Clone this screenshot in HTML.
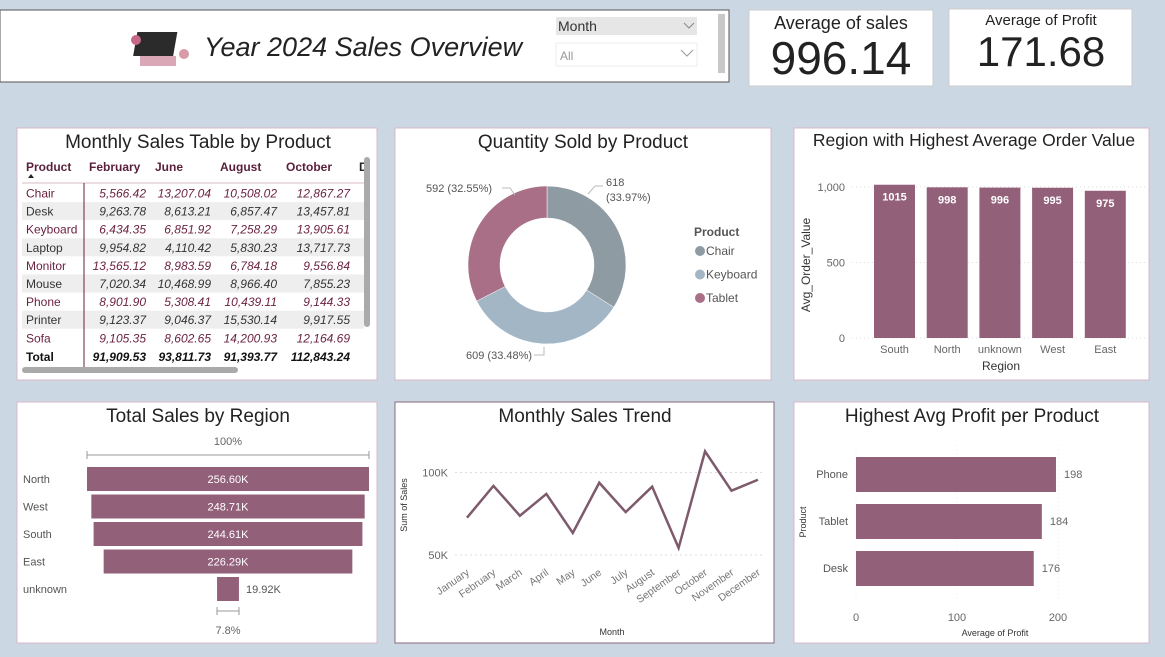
<!DOCTYPE html>
<html><head><meta charset="utf-8"><style>
body{margin:0;width:1165px;height:657px;overflow:hidden;background:#cbd7e2;font-family:"Liberation Sans",sans-serif}
svg{position:absolute;left:0;top:0}
text{font-family:"Liberation Sans",sans-serif}
</style></head><body>
<svg id="s" width="1165" height="657">
<!-- panels -->
<rect x="0" y="10" width="729" height="72" fill="#fff" stroke="#555"/>
<rect x="749" y="10" width="184" height="76" fill="#fff" stroke="#ccc"/>
<rect x="949" y="9" width="183" height="77" fill="#fff" stroke="#ccc"/>
<rect x="17" y="128" width="360" height="252" fill="#fff" stroke="#d9b9c8"/>
<rect x="395" y="128" width="376" height="252" fill="#fff" stroke="#d9b9c8"/>
<rect x="794" y="128" width="355" height="252" fill="#fff" stroke="#d9b9c8"/>
<rect x="17" y="402" width="360" height="241" fill="#fff" stroke="#d9b9c8"/>
<rect x="395" y="402" width="379" height="241" fill="#fff" stroke="#8a6a7e"/>
<rect x="794" y="402" width="355" height="241" fill="#fff" stroke="#d9b9c8"/>
<!-- header -->
<g><rect x="143" y="32" width="40" height="24" fill="#2b2b2b" transform="skewX(-10)"/><rect x="140" y="56" width="36" height="10" fill="#d9a7b6"/><circle cx="136" cy="40" r="5" fill="#c56a86"/><circle cx="184" cy="54" r="5" fill="#d99aa8"/></g>
<text x="204" y="56" font-family="Liberation Serif" font-style="italic" font-size="27" fill="#222">Year 2024 Sales Overview</text>
<rect x="556" y="17" width="141" height="18" fill="#e6e6e6"/>
<text x="558" y="31" font-family="Liberation Serif" font-size="14" fill="#333">Month</text>
<path d="M684 23l5 5 5-5" stroke="#888" fill="none"/>
<rect x="556" y="43" width="141" height="23" fill="#fff" stroke="#eee"/>
<text x="560" y="60" font-size="12" fill="#999">All</text>
<path d="M681 50l6 6 6-6" stroke="#999" fill="none"/>
<rect x="718" y="14" width="7" height="59" fill="#c8c8c8"/>
<text x="841" y="29" text-anchor="middle" font-size="18" fill="#222">Average of sales</text>
<text x="841" y="74" text-anchor="middle" font-family="Liberation Serif" font-size="46" fill="#222">996.14</text>
<text x="1041" y="25" text-anchor="middle" font-size="15" fill="#222">Average of Profit</text>
<text x="1041" y="66" text-anchor="middle" font-family="Liberation Serif" font-size="42" fill="#222">171.68</text>
<!-- titles -->
<text x="198" y="148" text-anchor="middle" font-size="19" fill="#222">Monthly Sales Table by Product</text>
<text x="583" y="148" text-anchor="middle" font-size="19" fill="#222">Quantity Sold by Product</text>
<text x="974" y="146" text-anchor="middle" font-size="17.5" fill="#222">Region with Highest Average Order Value</text>
<text x="198" y="422" text-anchor="middle" font-size="19" fill="#222">Total Sales by Region</text>
<text x="585" y="422" text-anchor="middle" font-size="19" fill="#222">Monthly Sales Trend</text>
<text x="972" y="422" text-anchor="middle" font-size="19" fill="#222">Highest Avg Profit per Product</text>
<g id="g"></g>
</svg>
<script>
const NS='http://www.w3.org/2000/svg';const G=document.getElementById('g');
function el(t,a,txt,p){const e=document.createElementNS(NS,t);for(const k in a)e.setAttribute(k,a[k]);if(txt!=null)e.textContent=txt;(p||G).appendChild(e);return e;}
const PURPLE='#93607a';
// table data
const tableCols=['February','June','August','October'];
const tableRows=['Chair','Desk','Keyboard','Laptop','Monitor','Mouse','Phone','Printer','Sofa'];
const tableVals=[['5,566.42','13,207.04','10,508.02','12,867.27'],['9,263.78','8,613.21','6,857.47','13,457.81'],['6,434.35','6,851.92','7,258.29','13,905.61'],['9,954.82','4,110.42','5,830.23','13,717.73'],['13,565.12','8,983.59','6,784.18','9,556.84'],['7,020.34','10,468.99','8,966.40','7,855.23'],['8,901.90','5,308.41','10,439.11','9,144.33'],['9,123.37','9,046.37','15,530.14','9,917.55'],['9,105.35','8,602.65','14,200.93','12,164.69']];
const tableTotals=['91,909.53','93,811.73','91,393.77','112,843.24'];
const colRight=[146,211,277,350];
let t=el('text',{x:26,y:171,'font-size':12,'font-weight':'bold',fill:'#5a1f3a'},'Product');

el('path',{d:'M28 178l3-4 3 4z',fill:'#222'});
tableCols.forEach((c,i)=>{const h=el('text',{x:[89,155,220,286][i],y:171,'font-size':12,'font-weight':'bold',fill:'#5a1f3a'},c);});
el('text',{x:359,y:171,'font-size':12,'font-weight':'bold',fill:'#222'},'D');
el('line',{x1:22,x2:364,y1:183,y2:183,stroke:'#d9b9c8'});
tableRows.forEach((r,i)=>{const y=184+i*18.1;
 if(i%2==1)el('rect',{x:22,y:y,width:342,height:18,fill:'#eeeeef'});
 const c=i%2==0?'#6a1f40':'#333';
 const rt=el('text',{x:26,y:y+13.5,'font-size':12,fill:c},r);
 tableVals[i].forEach((v,j)=>el('text',{x:colRight[j],y:y+13.5,'font-size':12,'font-style':'italic','text-anchor':'end',fill:c},v));});
el('text',{x:26,y:361,'font-size':12,'font-weight':'bold',fill:'#111'},'Total');
tableTotals.forEach((v,j)=>el('text',{x:colRight[j],y:361,'font-size':12,'font-weight':'bold','font-style':'italic','text-anchor':'end',fill:'#111'},v));
el('line',{x1:84,x2:84,y1:183,y2:367,stroke:'#6a1f40'});
let sb=el('rect',{x:22,y:367,width:216,height:6,rx:3,fill:'#aaa'});
sb=el('rect',{x:364,y:157,width:6,height:170,rx:3,fill:'#aaa'});

// donut
const donutLabels=['Chair','Keyboard','Tablet'];
const donutValues=[618,609,592];
const donutColors=['#8f9ba3','#a3b6c6','#a86f86'];
const cx=547,cy=265,R=79,r=47;const tot=donutValues.reduce((a,b)=>a+b,0);let a0=-Math.PI/2;
donutValues.forEach((v,i)=>{const a1=a0+v/tot*2*Math.PI;const L=(a1-a0)>Math.PI?1:0;
 const p=(rr,a)=>[cx+rr*Math.cos(a),cy+rr*Math.sin(a)];const [x1,y1]=p(R,a0),[x2,y2]=p(R,a1),[x3,y3]=p(r,a1),[x4,y4]=p(r,a0);
 const s=el('path',{d:`M${x1} ${y1}A${R} ${R} 0 ${L} 1 ${x2} ${y2}L${x3} ${y3}A${r} ${r} 0 ${L} 0 ${x4} ${y4}Z`,fill:donutColors[i],stroke:'#fff','stroke-width':0.5});
 
 a0=a1;});
el('text',{x:606,y:186,'font-size':11,fill:'#555'},'618');el('text',{x:606,y:201,'font-size':11,fill:'#555'},'(33.97%)');
el('path',{d:'M588 194l7-8h8',stroke:'#bbb',fill:'none'});
el('text',{x:426,y:192,'font-size':11,fill:'#555'},'592 (32.55%)');el('path',{d:'M502 188h8l5 7',stroke:'#bbb',fill:'none'});
el('text',{x:466,y:359,'font-size':11,fill:'#555'},'609 (33.48%)');el('path',{d:'M534 355h10v-8',stroke:'#bbb',fill:'none'});
el('text',{x:694,y:236,'font-size':12,'font-weight':'bold',fill:'#555'},'Product');
donutLabels.forEach((l,i)=>{const y=251+i*23.5;el('circle',{cx:700,cy:y,r:5,fill:donutColors[i]});const lt=el('text',{x:706,y:y+4,'font-size':12,fill:'#555'},l);});

// AOV bars
const aovCats=['South','North','unknown','West','East'];
const aovVals=[1015,998,996,995,975];
const aovTicks=[0,500,1000];
const ay=v=>338-v*0.151;
aovTicks.forEach(v=>{el('line',{x1:852,x2:1145,y1:ay(v),y2:ay(v),stroke:'#ddd','stroke-dasharray':'1 3'});el('text',{x:845,y:ay(v)+4,'font-size':11,'text-anchor':'end',fill:'#666'},v.toLocaleString('en-US'));});
aovCats.forEach((c,i)=>{const x=874+i*52.7;const b=el('rect',{x:x,y:ay(aovVals[i]),width:41,height:338-ay(aovVals[i]),fill:PURPLE});
 
 el('text',{x:x+20.5,y:ay(aovVals[i])+16,'font-size':11,'text-anchor':'middle',fill:'#fff','font-weight':'bold'},aovVals[i]);
 el('text',{x:x+20.5,y:353,'font-size':11,'text-anchor':'middle',fill:'#666'},c);});
el('text',{x:1001,y:370,'font-size':12,'text-anchor':'middle',fill:'#333'},'Region');
el('text',{x:810,y:265,'font-size':12,'text-anchor':'middle',fill:'#333',transform:'rotate(-90 810 265)'},'Avg_Order_Value');

// funnel
const funCats=['North','West','South','East','unknown'];
const funVals=[256.60,248.71,244.61,226.29,19.92];
const funMid=228,fs=282/256.60;
el('text',{x:228,y:445,'font-size':11,'text-anchor':'middle',fill:'#666'},'100%');
el('path',{d:'M87 451v8M87 455h282M369 451v8',stroke:'#999',fill:'none'});
funCats.forEach((c,i)=>{const y=467+i*27.5;const w=funVals[i]*fs;const b=el('rect',{x:funMid-w/2,y:y,width:w,height:24,fill:PURPLE});
 
 el('text',{x:23,y:y+16,'font-size':11,fill:'#555'},c);
 el('text',{x:i<4?funMid:funMid+18,y:y+16,'font-size':11,'text-anchor':i<4?'middle':'start',fill:i<4?'#fff':'#555'},funVals[i].toFixed(2)+'K');});
el('path',{d:'M217 607v8M217 611h22M239 607v8',stroke:'#999',fill:'none'});
el('text',{x:228,y:634,'font-size':11,'text-anchor':'middle',fill:'#666'},'7.8%');

// trend
const months=['January','February','March','April','May','June','July','August','September','October','November','December'];
const sales=[72.6,91.9,73.8,87,63.4,93.8,76,91.4,54.3,112.8,89,95.6];
const trendTicks=[50,100];
const tx=i=>467+i*26.45, ty=v=>555-(v-50)*1.65;
trendTicks.forEach(v=>{el('line',{x1:455,x2:765,y1:ty(v),y2:ty(v),stroke:'#ddd','stroke-dasharray':'2 3'});el('text',{x:448,y:ty(v)+4,'font-size':11,'text-anchor':'end',fill:'#666'},v+'K');});
const ln=el('polyline',{points:sales.map((v,i)=>tx(i)+','+ty(v)).join(' '),fill:'none',stroke:'#7e5a6c','stroke-width':2.5});

months.forEach((m,i)=>el('text',{x:tx(i)+3,y:574,'font-size':10.5,'text-anchor':'end',fill:'#777',transform:`rotate(-35 ${tx(i)+3} 574)`},m));
el('text',{x:612,y:635,'font-size':9,'text-anchor':'middle',fill:'#333'},'Month');
el('text',{x:407,y:505,'font-size':9,'text-anchor':'middle',fill:'#333',transform:'rotate(-90 407 505)'},'Sum of Sales');

// profit bars
const profCats=['Phone','Tablet','Desk'];
const profVals=[198,184,176];
const profTicks=[0,100,200];
const px=v=>856+v*1.01;
profTicks.forEach(v=>{el('line',{x1:px(v),x2:px(v),y1:445,y2:600,stroke:'#eee','stroke-dasharray':'1 3'});el('text',{x:px(v),y:621,'font-size':11,'text-anchor':'middle',fill:'#666'},v);});
profCats.forEach((c,i)=>{const y=457+i*47;const b=el('rect',{x:856,y:y,width:px(profVals[i])-856,height:35,fill:PURPLE});
 
 el('text',{x:848,y:y+21,'font-size':11,'text-anchor':'end',fill:'#555'},c);
 el('text',{x:px(profVals[i])+8,y:y+21,'font-size':11,fill:'#666'},profVals[i]);});
el('text',{x:995,y:636,'font-size':9,'text-anchor':'middle',fill:'#333'},'Average of Profit');
el('text',{x:806,y:522,'font-size':9,'text-anchor':'middle',fill:'#333',transform:'rotate(-90 806 522)'},'Product');
</script>
</body></html>
